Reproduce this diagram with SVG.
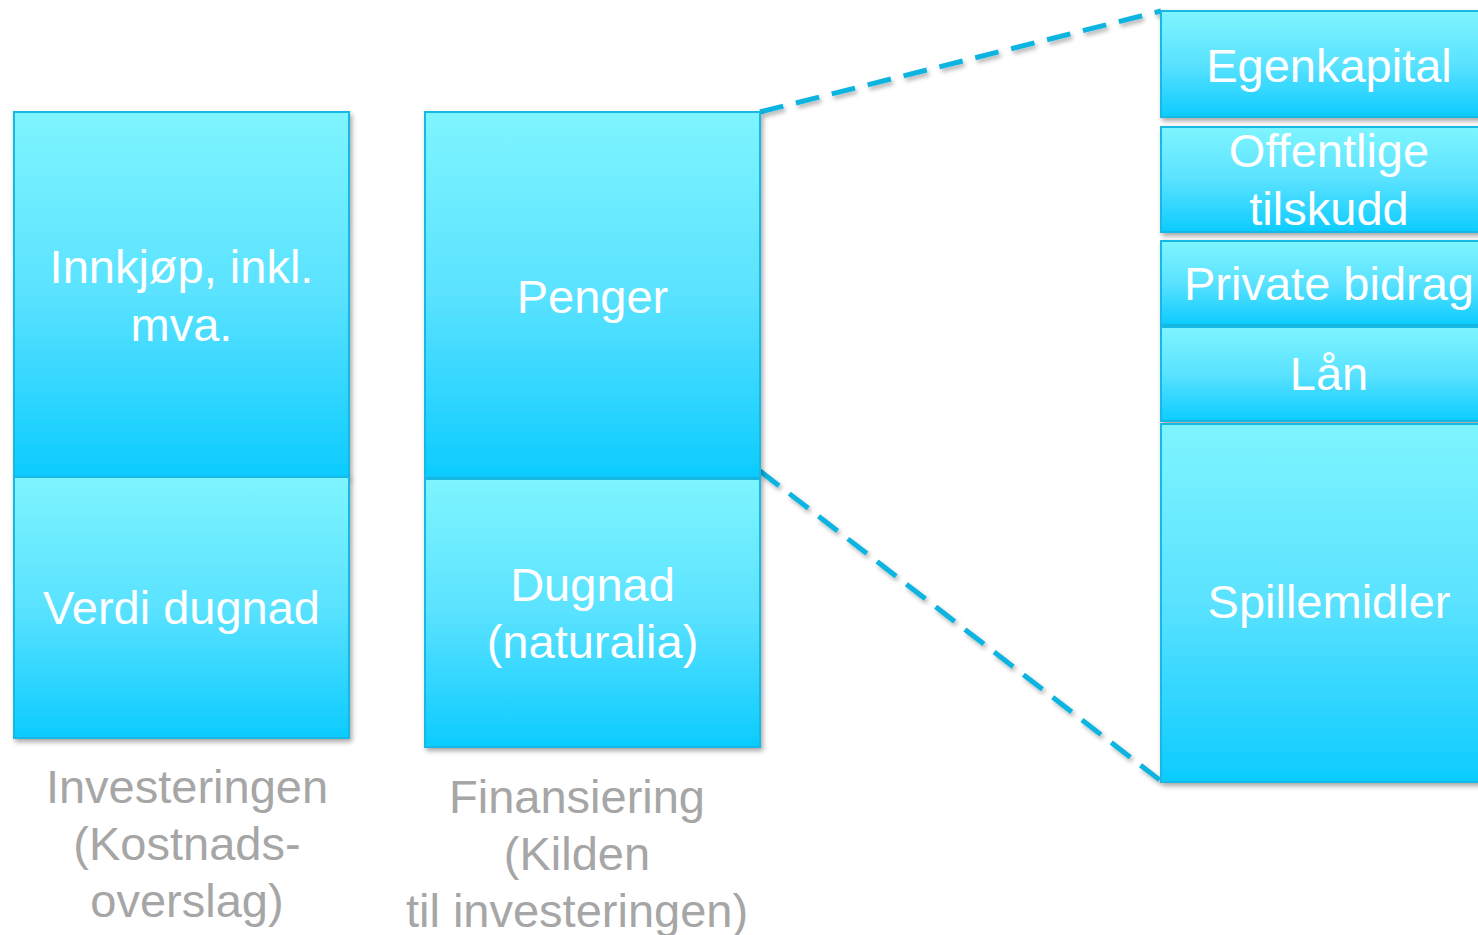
<svg xmlns="http://www.w3.org/2000/svg" width="1478" height="935" viewBox="0 0 1478 935">
<style>
.box{stroke:#12B9E3;stroke-width:2;fill:url(#g);filter:url(#sh)}
.t{font-family:"Liberation Sans",Arial,sans-serif;font-size:47px;fill:#FFFFFF;text-anchor:middle}
.lbl{font-family:"Liberation Sans",Arial,sans-serif;font-size:47px;fill:#A6A6A6;text-anchor:middle}
.dash{stroke:#0CB4E0;stroke-width:5;stroke-dasharray:24 13;fill:none;filter:url(#sh2)}
</style>
<defs>
<linearGradient id="g" x1="0" y1="0" x2="0" y2="1">
<stop offset="0" stop-color="#7EF5FF"/>
<stop offset="0.5" stop-color="#5AE2FF"/>
<stop offset="1" stop-color="#0CCBFF"/>
</linearGradient>
<filter id="sh" x="-10%" y="-10%" width="120%" height="120%">
<feDropShadow dx="2" dy="3" stdDeviation="2.5" flood-color="#000" flood-opacity="0.35"/>
</filter>
<filter id="sh2" x="-10%" y="-10%" width="120%" height="120%">
<feDropShadow dx="2" dy="3" stdDeviation="2" flood-color="#000" flood-opacity="0.3"/>
</filter>
</defs>
<g id="connectors">
<line class="dash" x1="760" y1="112" x2="1161" y2="11"/>
<line class="dash" x1="760" y1="471" x2="1161" y2="781"/>
</g>
<g id="innkjop">
<rect class="box" x="14" y="112" width="335" height="365"/>
<text class="t" x="181.5" y="283">Innkjøp, inkl.</text>
<text class="t" x="181.5" y="341">mva.</text>
</g>
<g id="verdi-dugnad">
<rect class="box" x="14" y="477" width="335" height="261"/>
<text class="t" x="181.5" y="624">Verdi dugnad</text>
</g>
<g id="penger">
<rect class="box" x="425" y="112" width="335" height="366"/>
<text class="t" x="592.5" y="313">Penger</text>
</g>
<g id="dugnad-naturalia">
<rect class="box" x="425" y="479" width="335" height="268"/>
<text class="t" x="592.5" y="601">Dugnad</text>
<text class="t" x="592.5" y="658">(naturalia)</text>
</g>
<g id="egenkapital">
<rect class="box" x="1161" y="11" width="336" height="106"/>
<text class="t" x="1329" y="82">Egenkapital</text>
</g>
<g id="offentlige-tilskudd">
<rect class="box" x="1161" y="127" width="336" height="105"/>
<text class="t" x="1329" y="167">Offentlige</text>
<text class="t" x="1329" y="225">tilskudd</text>
</g>
<g id="private-bidrag">
<rect class="box" x="1161" y="241" width="336" height="84"/>
<text class="t" x="1329" y="300">Private bidrag</text>
</g>
<g id="lan">
<rect class="box" x="1161" y="327" width="336" height="94"/>
<text class="t" x="1329" y="390">Lån</text>
</g>
<g id="spillemidler">
<rect class="box" x="1161" y="424" width="336" height="358"/>
<text class="t" x="1329" y="618">Spillemidler</text>
</g>
<g id="label-investeringen">
<text class="lbl" x="187" y="803">Investeringen</text>
<text class="lbl" x="187" y="860">(Kostnads-</text>
<text class="lbl" x="187" y="917">overslag)</text>
</g>
<g id="label-finansiering">
<text class="lbl" x="577" y="813">Finansiering</text>
<text class="lbl" x="577" y="870">(Kilden</text>
<text class="lbl" x="577" y="927">til investeringen)</text>
</g>
</svg>
